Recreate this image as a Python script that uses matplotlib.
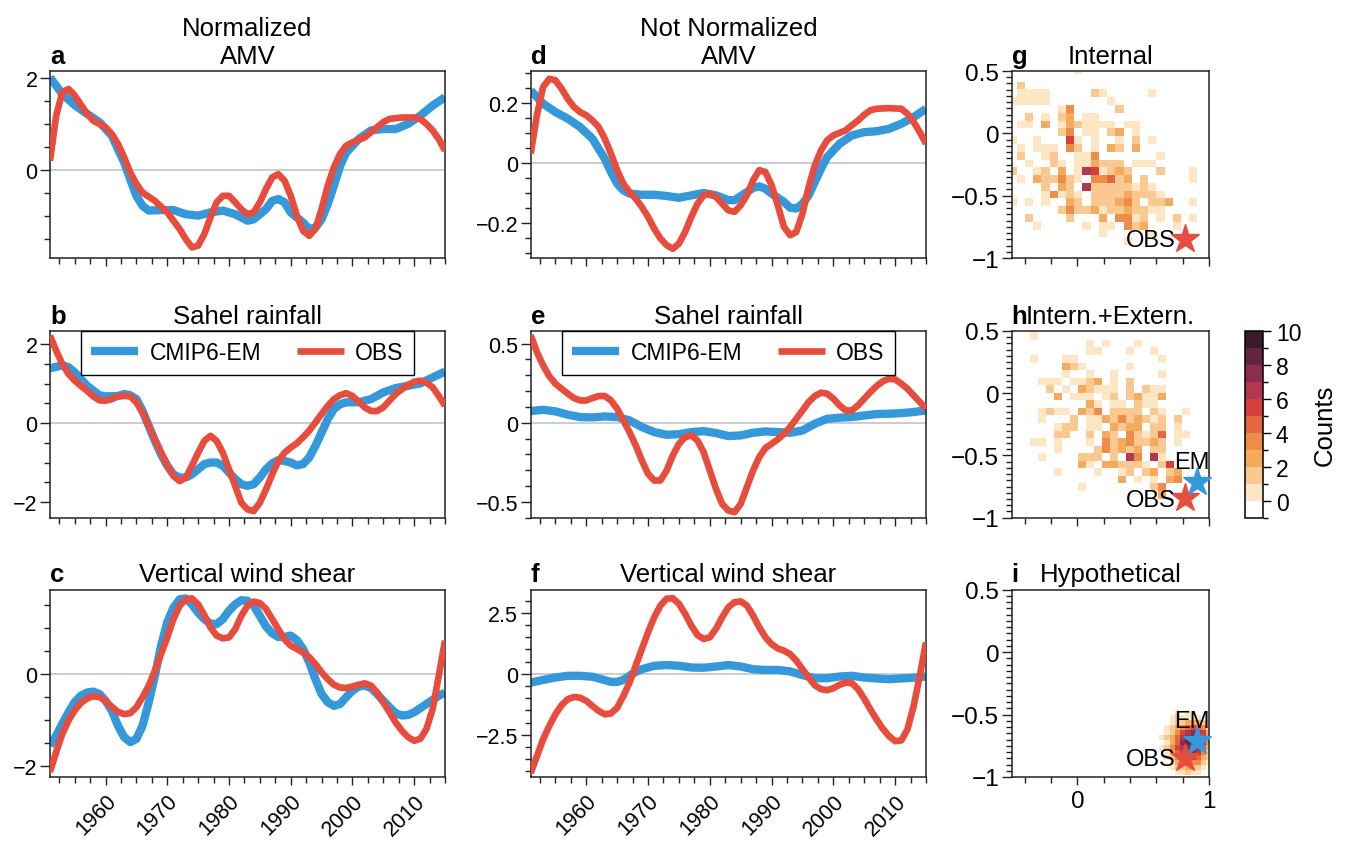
import numpy as np
import matplotlib
matplotlib.use('Agg')
import matplotlib.pyplot as plt
from matplotlib.colors import ListedColormap, BoundaryNorm
from matplotlib.cm import ScalarMappable
from matplotlib.ticker import MultipleLocator, FuncFormatter

plt.rcParams['font.family'] = ['Liberation Sans', 'DejaVu Sans']

# ============== values ==============
# a: normalized AMV
aYearsEM = [1951, 1953, 1955, 1957, 1959, 1961, 1963, 1964, 1965, 1966, 1967, 1969, 1971, 1973, 1975, 1977, 1979,
            1981, 1983, 1984, 1986, 1987, 1988, 1989, 1990, 1992, 1993, 1994, 1995, 1996, 1997, 1998, 1999, 2001,
            2003, 2005, 2007, 2009, 2011, 2013, 2015]
aEM = [2.01, 1.65, 1.41, 1.22, 1.04, 0.75, 0.17, -0.2, -0.56, -0.78, -0.88, -0.87, -0.87, -0.96, -0.99, -0.92, -0.88,
       -0.96, -1.10, -1.07, -0.85, -0.67, -0.63, -0.70, -0.92, -1.14, -1.28, -1.25, -1.07, -0.74, -0.34, 0.09, 0.38,
       0.67, 0.86, 0.89, 0.89, 1.0, 1.18, 1.40, 1.58]
aYearsObs = [1951, 1952, 1953, 1954, 1955, 1957, 1958, 1960, 1961, 1962, 1963, 1964, 1965, 1966, 1968, 1970, 1972,
             1973, 1974, 1975, 1976, 1977, 1978, 1979, 1980, 1981, 1982, 1983, 1984, 1985, 1986, 1987, 1988, 1989,
             1990, 1991, 1992, 1993, 1994, 1995, 1996, 1997, 1998, 1999, 2000, 2002, 2003, 2005, 2006, 2008, 2010,
             2011, 2012, 2013, 2014, 2015]
aObs = [0.2, 1.18, 1.69, 1.76, 1.62, 1.22, 1.07, 0.93, 0.78, 0.57, 0.28, -0.05, -0.30, -0.49, -0.67, -0.92, -1.28,
        -1.50, -1.68, -1.64, -1.39, -1.03, -0.70, -0.56, -0.56, -0.70, -0.85, -0.96, -0.92, -0.70, -0.41, -0.16,
        -0.09, -0.23, -0.56, -0.99, -1.32, -1.43, -1.28, -0.85, -0.34, 0.06, 0.35, 0.53, 0.60, 0.71, 0.82, 1.04,
        1.11, 1.14, 1.14, 1.11, 1.0, 0.86, 0.67, 0.42]

# d: not normalized AMV
dYearsEM = aYearsEM
dEM = [0.242, 0.198, 0.17, 0.148, 0.12, 0.081, 0.014, -0.03, -0.069, -0.091, -0.102, -0.106, -0.106, -0.11, -0.116,
       -0.108, -0.10, -0.108, -0.124, -0.124, -0.097, -0.083, -0.078, -0.086, -0.102, -0.13, -0.149, -0.152,
       -0.136, -0.108, -0.063, -0.019, 0.02, 0.064, 0.092, 0.103, 0.106, 0.114, 0.131, 0.153, 0.181]
dYearsObs = list(range(1951, 2001)) + [2002, 2003, 2004, 2005, 2006, 2007, 2009, 2011, 2012, 2013, 2014, 2015]
dObs = [0.031, 0.159, 0.253, 0.281, 0.276, 0.248, 0.214, 0.187, 0.17, 0.159, 0.142, 0.12, 0.081, 0.031, -0.024,
        -0.069, -0.097, -0.119, -0.147, -0.18, -0.219, -0.252, -0.274, -0.286, -0.269, -0.23, -0.18, -0.136,
        -0.108, -0.102, -0.113, -0.136, -0.158, -0.163, -0.141, -0.108, -0.058, -0.024, -0.03, -0.074, -0.141,
        -0.213, -0.241, -0.23, -0.169, -0.08, -0.008, 0.042, 0.076, 0.092, 0.109, 0.126, 0.142, 0.161, 0.176,
        0.181, 0.183, 0.181, 0.164, 0.137, 0.103, 0.064]

# b: normalized Sahel rainfall
bYearsEM = [1951, 1953, 1954, 1955, 1957, 1959, 1960, 1962] + list(range(1963, 1998)) + \
           [1998, 1999, 2001, 2003, 2005, 2007, 2009, 2011, 2013, 2015]
bEM = [1.39, 1.47, 1.42, 1.29, 0.95, 0.71, 0.68, 0.69, 0.74, 0.71, 0.61, 0.31, -0.07, -0.45, -0.79, -1.08, -1.30,
       -1.38, -1.38, -1.30, -1.17, -1.04, -1.0, -1.0, -1.08, -1.25, -1.42, -1.55, -1.59, -1.55, -1.38, -1.17,
       -1.02, -0.94, -0.96, -1.0, -1.07, -1.04, -0.87, -0.58, -0.24, 0.10, 0.36, 0.48, 0.53, 0.53, 0.61, 0.78,
       0.89, 0.95, 1.01, 1.16, 1.31]
bYearsObs = list(range(1951, 2016))
bObs = [2.22, 1.84, 1.50, 1.25, 1.08, 0.95, 0.82, 0.68, 0.58, 0.57, 0.61, 0.68, 0.69, 0.68, 0.53, 0.27, -0.07,
        -0.41, -0.75, -1.08, -1.34, -1.47, -1.38, -1.08, -0.75, -0.45, -0.32, -0.45, -0.75, -1.17, -1.59, -2.02,
        -2.19, -2.23, -2.02, -1.68, -1.30, -0.96, -0.75, -0.62, -0.51, -0.36, -0.19, 0.02, 0.23, 0.44, 0.61,
        0.71, 0.76, 0.69, 0.55, 0.40, 0.31, 0.31, 0.40, 0.57, 0.74, 0.86, 0.97, 1.05, 1.08, 1.03, 0.91, 0.69, 0.44]

# e: not normalized Sahel rainfall
eYearsEM = list(range(1951, 2016, 2))
eEM = [0.074, 0.082, 0.072, 0.051, 0.036, 0.034, 0.04, 0.036, 0.015, -0.027, -0.059, -0.076, -0.072, -0.059,
       -0.053, -0.065, -0.084, -0.080, -0.063, -0.055, -0.059, -0.063, -0.049, -0.006, 0.025, 0.032, 0.036,
       0.046, 0.055, 0.057, 0.061, 0.068, 0.078]
eYearsObs = list(range(1951, 2016))
eObs = [0.553, 0.447, 0.363, 0.295, 0.247, 0.215, 0.184, 0.156, 0.141, 0.141, 0.156, 0.169, 0.169, 0.141, 0.089,
        0.015, -0.059, -0.143, -0.238, -0.323, -0.365, -0.365, -0.302, -0.207, -0.133, -0.091, -0.080, -0.112,
        -0.186, -0.302, -0.418, -0.513, -0.555, -0.565, -0.513, -0.407, -0.302, -0.217, -0.160, -0.133, -0.105,
        -0.070, -0.027, 0.025, 0.078, 0.131, 0.169, 0.190, 0.184, 0.152, 0.110, 0.078, 0.078, 0.110, 0.152,
        0.194, 0.232, 0.262, 0.278, 0.274, 0.247, 0.215, 0.173, 0.131, 0.089]

# c: normalized vertical wind shear
cYears = list(range(1951, 2016))
cEM = [-1.57, -1.35, -1.09, -0.84, -0.62, -0.48, -0.41, -0.39, -0.44, -0.59, -0.80, -1.13, -1.38, -1.49, -1.42,
       -1.13, -0.62, -0.04, 0.61, 1.12, 1.44, 1.62, 1.64, 1.51, 1.33, 1.19, 1.09, 1.08, 1.19, 1.37, 1.51, 1.60,
       1.59, 1.48, 1.26, 1.03, 0.88, 0.80, 0.80, 0.83, 0.73, 0.54, 0.25, -0.12, -0.44, -0.62, -0.70, -0.66,
       -0.51, -0.37, -0.28, -0.26, -0.31, -0.44, -0.59, -0.73, -0.86, -0.91, -0.90, -0.84, -0.75, -0.66, -0.57,
       -0.48, -0.41]
cObs = [-2.14, -1.71, -1.31, -1.02, -0.80, -0.64, -0.54, -0.49, -0.51, -0.59, -0.72, -0.83, -0.88, -0.86, -0.73,
        -0.51, -0.26, 0.07, 0.43, 0.79, 1.19, 1.48, 1.62, 1.64, 1.51, 1.28, 1.01, 0.83, 0.77, 0.79, 0.97, 1.26,
        1.48, 1.57, 1.54, 1.41, 1.19, 0.97, 0.75, 0.61, 0.54, 0.46, 0.36, 0.21, 0.03, -0.12, -0.24, -0.30, -0.31,
        -0.28, -0.24, -0.21, -0.26, -0.41, -0.62, -0.84, -1.06, -1.24, -1.38, -1.46, -1.42, -1.20, -0.77, -0.04,
        0.72]

# f: not normalized vertical wind shear
fYearsEM = [1951, 1953, 1955, 1957, 1959, 1961, 1963, 1964, 1965, 1966, 1967, 1968, 1969, 1971, 1973, 1975, 1977,
            1979, 1981, 1983, 1985, 1987, 1989, 1991, 1993, 1995, 1997, 1999, 2001, 2003, 2005, 2007, 2009, 2011,
            2013, 2015]
fEM = [-0.36, -0.25, -0.15, -0.08, -0.08, -0.12, -0.26, -0.33, -0.33, -0.25, -0.08, 0.08, 0.19, 0.33, 0.36, 0.33,
       0.26, 0.25, 0.30, 0.36, 0.30, 0.19, 0.16, 0.16, 0.10, -0.05, -0.18, -0.18, -0.11, -0.08, -0.15, -0.19,
       -0.22, -0.19, -0.16, -0.11]
fYearsObs = list(range(1951, 2016))
fObs = [-4.07, -3.38, -2.69, -2.14, -1.66, -1.28, -1.04, -0.95, -0.98, -1.11, -1.32, -1.52, -1.66, -1.62, -1.39,
        -0.91, -0.36, 0.33, 1.02, 1.70, 2.32, 2.80, 3.08, 3.10, 2.87, 2.46, 1.98, 1.59, 1.43, 1.50, 1.85, 2.32,
        2.73, 2.94, 2.97, 2.80, 2.39, 1.91, 1.50, 1.22, 1.04, 0.95, 0.81, 0.54, 0.19, -0.15, -0.47, -0.63, -0.67,
        -0.59, -0.45, -0.36, -0.38, -0.63, -1.02, -1.46, -1.87, -2.25, -2.55, -2.76, -2.73, -2.28, -1.32, -0.08,
        1.29]

# g, h, i: 2-d histograms of counts (rows from top to bottom)
gXEdge0, gYEdge0, gBin = -0.525, 0.54, 0.0625
gCounts = [
    "000000001000000000000000",
    "000000000000000000000000",
    "020000000000000000000000",
    "011110000021000001000000",
    "111110000000100000000000",
    "000000140000020000000000",
    "002010230110000000000000",
    "011030132111101100000000",
    "000000240110230100000000",
    "100100061010010201000000",
    "010111042010320300000000",
    "020012001140000000100000",
    "001002101132220111000000",
    "200120301761232000200010",
    "010322421044523020000010",
    "000020320722222121000000",
    "000014121022223222100000",
    "101010032022234202230010",
    "000000242231223221100000",
    "002000020003044120102010",
    "000100000101104230001000",
    "000000000001000001000000",
    "000000000000001000000000",
    "000000000000000000000000",
]
hXEdge0, hYEdge0, hBin = -0.482, 0.489, 0.0607
hCounts = [
    "001000000000000000000000",
    "000000000101000100000000",
    "000000000110001001000000",
    "001000110000000000100000",
    "000000321000001000000000",
    "000000100100100000100000",
    "000111011230102000000000",
    "000020103211102021100000",
    "000003011101202311300000",
    "000000000310110211000000",
    "000121103240222202100100",
    "000100020113242321202000",
    "000001220110323302201000",
    "000002200203204212501100",
    "001101000104234223201000",
    "000001000024232302200000",
    "000100002220207407100000",
    "000000003103322210260000",
    "000001000010012023023000",
    "000000000000030101034000",
    "000000001000000002400000",
    "000000000000000000300000",
    "000000000000000000000000",
    "000000000000000000000000",
]
iXEdge0, iYEdge0, iBin = 0.62, -0.46, 0.04
iCounts = [
    "0001010000",
    "0012111100",
    "0012233321",
    "0123456542",
    "0124678763",
    "1235789864",
    "0135899974",
    "1246789853",
    "0135678742",
    "0124566532",
    "0013454421",
    "0012232210",
    "0001121100",
]

obsPoint = (0.82, -0.845)
emPoint = (0.905, -0.71)
countLevels = list(range(-1, 11))
# =========================================================

emColor = '#3498db'
obsColor = '#e74c3c'
zeroColor = '#b9c0c7'
cmapColors = ['#ffffff', '#fde6c4', '#f9c991', '#f5ab5e', '#ee8d47', '#e2673e', '#d6403c', '#b0394f',
              '#8a2e4e', '#632444', '#3b1a2e']
countCmap = ListedColormap(cmapColors)

titleSize = 18.5
W, H = 1347, 845
fig = plt.figure(figsize=(W / 100, H / 100), dpi=100)


def axesAt(left, top, right, bottom):
    # pixel box -> figure fraction
    return fig.add_axes([left / W, 1 - bottom / H, (right - left) / W, (bottom - top) / H])


def niceNum(v, pos):
    return ('%g' % round(v, 6)).replace('-', '\u2212')


def styleAxes(ax, labelSize):
    for sp in ax.spines.values():
        sp.set_linewidth(1.1)
        sp.set_color('#222222')
    ax.tick_params(which='both', direction='out', top=False, right=False, labelsize=labelSize, width=1,
                   color='#222222')
    ax.tick_params(which='major', axis='y', length=7, pad=2)
    ax.tick_params(which='major', axis='x', length=6)
    ax.tick_params(which='minor', length=4)


def seriesPanel(ax, letter, title, yrsEM, em, yrsObs, obs, ylim, major, minor, showYears, legend=False):
    ax.axhline(0, color=zeroColor, lw=1.1, zorder=1)
    ax.plot(yrsEM, em, color=emColor, lw=6, solid_joinstyle='round', solid_capstyle='butt', zorder=2,
            label='CMIP6-EM')
    ax.plot(yrsObs, obs, color=obsColor, lw=4.8, solid_joinstyle='round', solid_capstyle='butt', zorder=3,
            label='OBS')
    ax.set_xlim(1951, 2015)
    ax.set_ylim(*ylim)
    ax.xaxis.set_major_locator(MultipleLocator(10))
    ax.xaxis.set_minor_locator(MultipleLocator(2.5))
    ax.yaxis.set_major_locator(MultipleLocator(major))
    ax.yaxis.set_minor_locator(MultipleLocator(minor))
    ax.yaxis.set_major_formatter(FuncFormatter(niceNum))
    styleAxes(ax, 15.5)
    if showYears:
        plt.setp(ax.get_xticklabels(), rotation=45, ha='right', rotation_mode='anchor')
    else:
        ax.set_xticklabels([])
    ax.set_title(title, fontsize=titleSize, pad=6)
    ax.set_title(letter, loc='left', fontsize=titleSize, fontweight='bold', pad=6)
    if legend:
        leg = ax.legend(loc='upper center', bbox_to_anchor=(0.5, 1.0), ncol=2, fontsize=16.5, frameon=True,
                        fancybox=False, edgecolor='black', framealpha=1, handlelength=2.05, handletextpad=0.5,
                        columnspacing=1.55, borderaxespad=0, borderpad=0.45)
        leg.get_frame().set_linewidth(1.0)


def histPanel(ax, letter, title, counts, x0, y0, step, showX, showEM):
    grid = np.array([[int(ch) for ch in row] for row in counts])
    xEdges = x0 + step * np.arange(grid.shape[1] + 1)
    yEdges = y0 - step * np.arange(grid.shape[0] + 1)
    meshNorm = BoundaryNorm(np.arange(0, 12), countCmap.N)
    ax.pcolormesh(xEdges, yEdges, np.ma.masked_equal(grid, 0), cmap=countCmap, norm=meshNorm, zorder=1)
    ax.set_xlim(-0.5, 1)
    ax.set_ylim(-1, 0.5)
    ax.xaxis.set_major_locator(MultipleLocator(1))
    ax.xaxis.set_minor_locator(MultipleLocator(0.2))
    ax.yaxis.set_major_locator(MultipleLocator(0.5))
    ax.yaxis.set_minor_locator(MultipleLocator(0.05))
    ax.xaxis.set_major_formatter(FuncFormatter(niceNum))
    ax.yaxis.set_major_formatter(FuncFormatter(niceNum))
    styleAxes(ax, 17.5)
    if not showX:
        ax.set_xticklabels([])
    ax.set_title(title, fontsize=titleSize, pad=6)
    ax.set_title(letter, loc='left', fontsize=titleSize, fontweight='bold', pad=6)
    ax.plot(*obsPoint, marker='*', ms=21, color=obsColor, mec=obsColor, clip_on=False, zorder=5)
    ax.annotate('OBS', obsPoint, xytext=(-7, -1), textcoords='offset points', ha='right', va='center',
                fontsize=17, zorder=6)
    if showEM:
        ax.plot(*emPoint, marker='*', ms=21, color=emColor, mec=emColor, clip_on=False, zorder=5)
        ax.annotate('EM', emPoint, xytext=(-3, 6), textcoords='offset points', ha='center', va='bottom',
                    fontsize=17, zorder=6)


colL = [(50, 445), (530.7, 926), (1011.7, 1209)]
rowTB = [(72, 259), (332, 518.7), (590.7, 778)]

ax = axesAt(colL[0][0], rowTB[0][0], colL[0][1], rowTB[0][1])
seriesPanel(ax, 'a', 'Normalized\nAMV', aYearsEM, aEM, aYearsObs, aObs, (-1.91, 2.15), 2, 0.5, False)
ax = axesAt(colL[0][0], rowTB[1][0], colL[0][1], rowTB[1][1])
seriesPanel(ax, 'b', 'Sahel rainfall', bYearsEM, bEM, bYearsObs, bObs, (-2.40, 2.34), 2, 0.5, False, legend=True)
ax = axesAt(colL[0][0], rowTB[2][0], colL[0][1], rowTB[2][1])
seriesPanel(ax, 'c', 'Vertical wind shear', cYears, cEM, cYears, cObs, (-2.25, 1.83), 2, 0.5, True)

ax = axesAt(colL[1][0], rowTB[0][0], colL[1][1], rowTB[0][1])
seriesPanel(ax, 'd', 'Not Normalized\nAMV', dYearsEM, dEM, dYearsObs, dObs, (-0.317, 0.307), 0.2, 0.05, False)
ax = axesAt(colL[1][0], rowTB[1][0], colL[1][1], rowTB[1][1])
seriesPanel(ax, 'e', 'Sahel rainfall', eYearsEM, eEM, eYearsObs, eObs, (-0.60, 0.58), 0.5, 0.1, False, legend=True)
ax = axesAt(colL[1][0], rowTB[2][0], colL[1][1], rowTB[2][1])
seriesPanel(ax, 'f', 'Vertical wind shear', fYearsEM, fEM, fYearsObs, fObs, (-4.23, 3.45), 2.5, 0.5, True)

ax = axesAt(colL[2][0], rowTB[0][0], colL[2][1], rowTB[0][1])
histPanel(ax, 'g', 'Internal', gCounts, gXEdge0, gYEdge0, gBin, False, False)
ax = axesAt(colL[2][0], rowTB[1][0], colL[2][1], rowTB[1][1])
histPanel(ax, 'h', 'Intern.+Extern.', hCounts, hXEdge0, hYEdge0, hBin, False, True)
ax = axesAt(colL[2][0], rowTB[2][0], colL[2][1], rowTB[2][1])
histPanel(ax, 'i', 'Hypothetical', iCounts, iXEdge0, iYEdge0, iBin, True, True)

# colorbar for the count panels
cax = axesAt(1245, 332.3, 1262.7, 519.3)
sm = ScalarMappable(norm=BoundaryNorm(countLevels, countCmap.N), cmap=countCmap)
cb = fig.colorbar(sm, cax=cax, ticks=range(0, 11, 2))
cb.outline.set_linewidth(1.1)
cb.ax.yaxis.set_minor_locator(MultipleLocator(1))
cb.ax.tick_params(which='major', length=6, width=1, labelsize=16.5)
cb.ax.tick_params(which='minor', length=3.5, width=1)
cb.set_label('Counts', fontsize=18.5, labelpad=8)

fig.savefig('out.png', dpi=100)
